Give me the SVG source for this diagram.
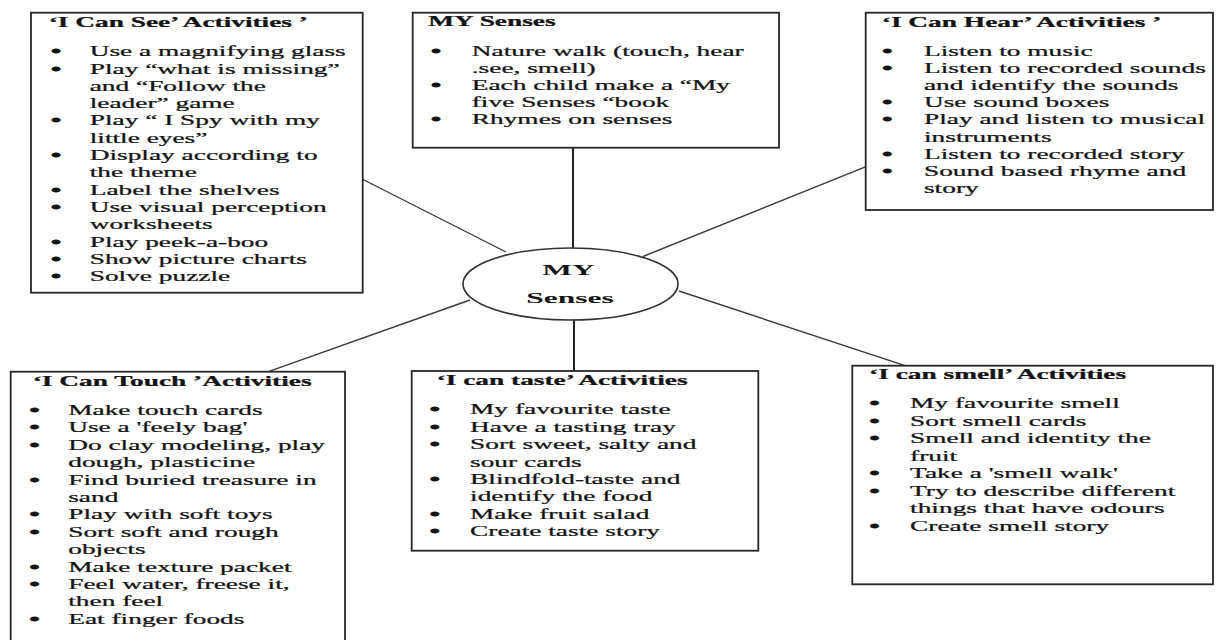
<svg xmlns="http://www.w3.org/2000/svg" width="1216" height="640" viewBox="0 0 1216 640">
  <style>
    .box { fill: #ffffff; stroke: #262626; stroke-width: 1.8; }
    .hub { fill: #ffffff; stroke: #333333; stroke-width: 1.6; }
    .link { stroke: #3a3a3a; stroke-width: 1.4; fill: none; }
    .stem { stroke: #222222; stroke-width: 2; fill: none; }
    .t { font-family: "Liberation Serif", "Times New Roman", serif; font-size: 14.4px; fill: #141414; stroke: #141414; stroke-width: 0.25; }
    .h { font-weight: bold; }
    .b { font-weight: bold; stroke-width: 0.9; }
    .hubtext { font-family: "Liberation Serif", "Times New Roman", serif; font-size: 15px; font-weight: bold; fill: #141414; text-anchor: middle; }
  </style>
  <rect width="1216" height="640" fill="#ffffff"/>

  <!-- spokes from the hub to each activity box -->
  <g id="connectors">
    <line class="link" x1="363" y1="179.5" x2="506" y2="252"/>
    <line class="stem" x1="573" y1="147.7" x2="573" y2="248"/>
    <line class="link" x1="866" y1="166.7" x2="643" y2="256.5"/>
    <line class="link" x1="268.3" y1="371.7" x2="470" y2="300"/>
    <line class="stem" x1="574" y1="320" x2="574" y2="371"/>
    <line class="link" x1="679" y1="291" x2="905" y2="365.7"/>
  </g>

  <g id="hub">
    <ellipse class="hub" cx="570.5" cy="284" rx="107.5" ry="36"/>
    <g transform="scale(2.1,1)">
      <text class="hubtext" x="270.7" y="275">MY</text>
      <text class="hubtext" x="271.4" y="303">Senses</text>
    </g>
  </g>

  <g id="see">
    <rect class="box" x="31" y="12.7" width="331.7" height="280"/>
    <g class="t" transform="scale(1.9,1)">
      <text class="h" x="25.6" y="27">‘I Can See’ Activities ’</text>
      <text class="b" x="27" y="56.3">•</text><text x="47.2" y="56.3">Use a magnifying glass</text>
      <text class="b" x="27" y="73.6">•</text><text x="47.2" y="73.6">Play “what is missing”</text>
      <text x="47.2" y="90.9">and “Follow the</text>
      <text x="47.2" y="108.2">leader” game</text>
      <text class="b" x="27" y="125.5">•</text><text x="47.2" y="125.5">Play “ I Spy with my</text>
      <text x="47.2" y="142.8">little eyes”</text>
      <text class="b" x="27" y="160.1">•</text><text x="47.2" y="160.1">Display according to</text>
      <text x="47.2" y="177.4">the theme</text>
      <text class="b" x="27" y="194.7">•</text><text x="47.2" y="194.7">Label the shelves</text>
      <text class="b" x="27" y="212">•</text><text x="47.2" y="212">Use visual perception</text>
      <text x="47.2" y="229.3">worksheets</text>
      <text class="b" x="27" y="246.6">•</text><text x="47.2" y="246.6">Play peek-a-boo</text>
      <text class="b" x="27" y="263.9">•</text><text x="47.2" y="263.9">Show picture charts</text>
      <text class="b" x="27" y="281.2">•</text><text x="47.2" y="281.2">Solve puzzle</text>
    </g>
  </g>

  <g id="senses">
    <rect class="box" x="412.7" y="12.7" width="366.3" height="135"/>
    <g class="t" transform="scale(1.9,1)">
      <text class="h" x="225.4" y="26.5">MY Senses</text>
      <text class="b" x="227" y="55.7">•</text><text x="248.3" y="55.7">Nature walk (touch, hear</text>
      <text x="248.3" y="72.9">.see, smell)</text>
      <text class="b" x="227" y="90.1">•</text><text x="248.3" y="90.1">Each child make a “My</text>
      <text x="248.3" y="107.3">five Senses “book</text>
      <text class="b" x="227" y="124.5">•</text><text x="248.3" y="124.5">Rhymes on senses</text>
    </g>
  </g>

  <g id="hear">
    <rect class="box" x="865.7" y="12.7" width="347.3" height="197.3"/>
    <g class="t" transform="scale(1.9,1)">
      <text class="h" x="464.1" y="26.7">‘I Can Hear’ Activities ’</text>
      <text class="b" x="464.5" y="55.7">•</text><text x="486.3" y="55.7">Listen to music</text>
      <text class="b" x="464.5" y="72.9">•</text><text x="486.3" y="72.9">Listen to recorded sounds</text>
      <text x="486.3" y="90.1">and identify the sounds</text>
      <text class="b" x="464.5" y="107.3">•</text><text x="486.3" y="107.3">Use sound boxes</text>
      <text class="b" x="464.5" y="124.5">•</text><text x="486.3" y="124.5">Play and listen to musical</text>
      <text x="486.3" y="141.7">instruments</text>
      <text class="b" x="464.5" y="158.9">•</text><text x="486.3" y="158.9">Listen to recorded story</text>
      <text class="b" x="464.5" y="176.1">•</text><text x="486.3" y="176.1">Sound based rhyme and</text>
      <text x="486.3" y="193.3">story</text>
    </g>
  </g>

  <g id="touch">
    <rect class="box" x="10.7" y="371.7" width="334.3" height="280"/>
    <g class="t" transform="scale(1.9,1)">
      <text class="h" x="17.2" y="386">‘I Can Touch ’Activities</text>
      <text class="b" x="15.7" y="415">•</text><text x="35.9" y="415">Make touch cards</text>
      <text class="b" x="15.7" y="432.4">•</text><text x="35.9" y="432.4">Use a 'feely bag'</text>
      <text class="b" x="15.7" y="449.8">•</text><text x="35.9" y="449.8">Do clay modeling, play</text>
      <text x="35.9" y="467.2">dough, plasticine</text>
      <text class="b" x="15.7" y="484.6">•</text><text x="35.9" y="484.6">Find buried treasure in</text>
      <text x="35.9" y="502">sand</text>
      <text class="b" x="15.7" y="519.4">•</text><text x="35.9" y="519.4">Play with soft toys</text>
      <text class="b" x="15.7" y="536.8">•</text><text x="35.9" y="536.8">Sort soft and rough</text>
      <text x="35.9" y="554.2">objects</text>
      <text class="b" x="15.7" y="571.6">•</text><text x="35.9" y="571.6">Make texture packet</text>
      <text class="b" x="15.7" y="589">•</text><text x="35.9" y="589">Feel water, freese it,</text>
      <text x="35.9" y="606.4">then feel</text>
      <text class="b" x="15.7" y="623.8">•</text><text x="35.9" y="623.8">Eat finger foods</text>
    </g>
  </g>

  <g id="taste">
    <rect class="box" x="411.7" y="371" width="346.6" height="179.7"/>
    <g class="t" transform="scale(1.9,1)">
      <text class="h" x="229.8" y="385.5">‘I can taste’ Activities</text>
      <text class="b" x="226.3" y="414.5">•</text><text x="247.4" y="414.5">My favourite taste</text>
      <text class="b" x="226.3" y="431.9">•</text><text x="247.4" y="431.9">Have a tasting tray</text>
      <text class="b" x="226.3" y="449.3">•</text><text x="247.4" y="449.3">Sort sweet, salty and</text>
      <text x="247.4" y="466.7">sour cards</text>
      <text class="b" x="226.3" y="484.1">•</text><text x="247.4" y="484.1">Blindfold-taste and</text>
      <text x="247.4" y="501.5">identify the food</text>
      <text class="b" x="226.3" y="518.9">•</text><text x="247.4" y="518.9">Make fruit salad</text>
      <text class="b" x="226.3" y="536.3">•</text><text x="247.4" y="536.3">Create taste story</text>
    </g>
  </g>

  <g id="smell">
    <rect class="box" x="852.3" y="365.7" width="360.7" height="218.6"/>
    <g class="t" transform="scale(1.9,1)">
      <text class="h" x="457.4" y="379.5">‘I can smell’ Activities</text>
      <text class="b" x="457.8" y="408.5">•</text><text x="479" y="408.5">My favourite smell</text>
      <text class="b" x="457.8" y="426">•</text><text x="479" y="426">Sort smell cards</text>
      <text class="b" x="457.8" y="443.5">•</text><text x="479" y="443.5">Smell and identity the</text>
      <text x="479" y="461">fruit</text>
      <text class="b" x="457.8" y="478.5">•</text><text x="479" y="478.5">Take a 'smell walk'</text>
      <text class="b" x="457.8" y="496">•</text><text x="479" y="496">Try to describe different</text>
      <text x="479" y="513.5">things that have odours</text>
      <text class="b" x="457.8" y="531">•</text><text x="479" y="531">Create smell story</text>
    </g>
  </g>
</svg>
